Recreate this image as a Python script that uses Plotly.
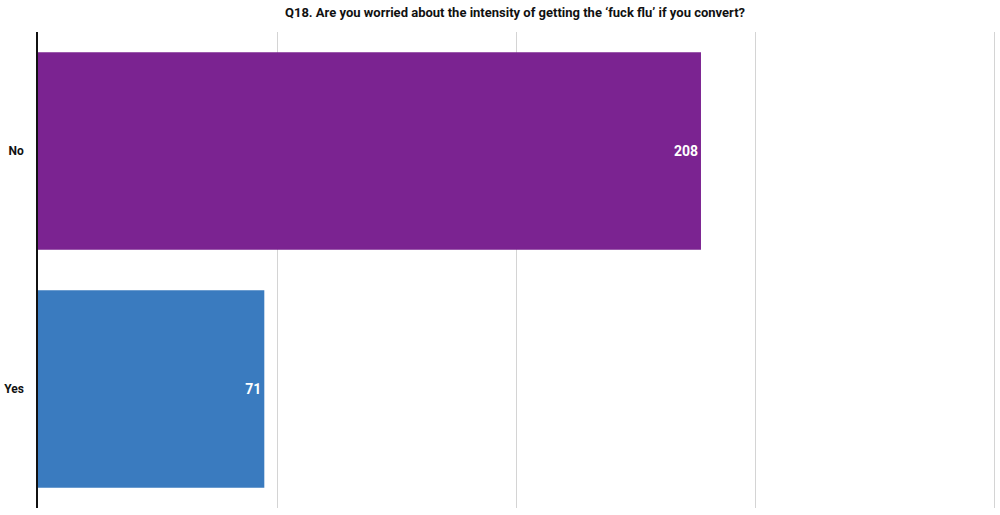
import plotly.graph_objects as go

# Survey answers (bottom to top in plotly order)
categories = ["Yes", "No"]
counts = [71, 208]
bar_colors = ["#3a7bbf", "#7b2391"]
grid_ticks = [0, 75, 150, 225, 300]

fig = go.Figure()
fig.add_trace(
    go.Bar(
        x=counts,
        y=categories,
        orientation="h",
        marker=dict(color=bar_colors, line=dict(width=0)),
        text=[str(c) for c in counts],
        textposition="inside",
        insidetextanchor="end",
        textfont=dict(family="Roboto", size=14, color="white", weight="bold"),
        hoverinfo="skip",
    )
)

fig.update_layout(
    title=dict(
        text="<b>Q18. Are you worried about the intensity of getting the ‘fuck flu’ if you convert?</b>",
        x=0.515,
        xanchor="center",
        y=0.985,
        yanchor="top",
        font=dict(family="Roboto", size=13, color="#111"),
    ),
    width=1000,
    height=515,
    margin=dict(l=38, r=1, t=32, b=7),
    paper_bgcolor="white",
    plot_bgcolor="white",
    bargap=0.17,
    showlegend=False,
    xaxis=dict(
        # a bit past 300 so the last gridline stays visible
        range=[0, 301.5],
        tickvals=grid_ticks,
        showticklabels=False,
        showgrid=True,
        gridcolor="#d4d4d4",
        gridwidth=1,
        zeroline=False,
        showline=False,
        automargin=False,
        fixedrange=True,
    ),
    yaxis=dict(
        showgrid=False,
        showline=True,
        linecolor="#111",
        linewidth=1.5,
        ticks="",
        ticklabelstandoff=10,
        tickfont=dict(family="Roboto", size=12, color="#111", weight="bold"),
        automargin=False,
        fixedrange=True,
    ),
)

# drop the default body margin so the figure sits at the page corner
fig.write_html(
    "out.html",
    config={"displayModeBar": False},
    post_script="document.body.style.margin='0';",
)
